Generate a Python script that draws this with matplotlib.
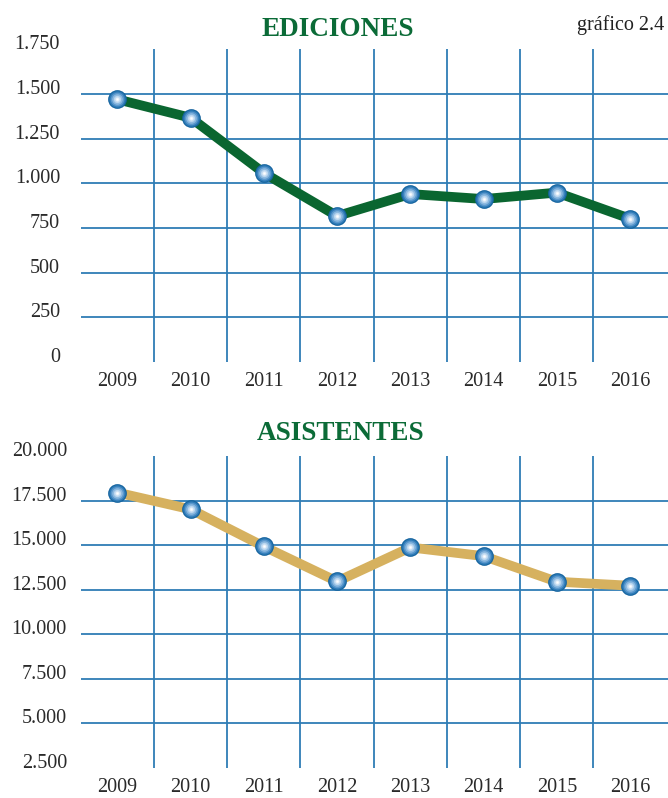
import matplotlib
matplotlib.use("Agg")
import matplotlib.pyplot as plt
from matplotlib.transforms import ScaledTranslation

years = ["2009", "2010", "2011", "2012", "2013", "2014", "2015", "2016"]
ediciones = [1470, 1367, 1058, 817, 940, 912, 948, 802]
asistentes = [17950, 17010, 14925, 12965, 14870, 14385, 12950, 12725]

ed_ticks = [0, 250, 500, 750, 1000, 1250, 1500, 1750]
ed_labels = ["0", "250", "500", "750", "1.000", "1.250", "1.500", "1.750"]
as_ticks = [2500, 5000, 7500, 10000, 12500, 15000, 17500, 20000]
as_labels = ["2.500", "5.000", "7.500", "10.000", "12.500", "15.000", "17.500", "20.000"]

plt.rcParams['font.family'] = ['Liberation Serif', 'DejaVu Serif']

W, H = 668, 798
fig = plt.figure(figsize=(W / 100, H / 100), dpi=100)

GRID = "#2f7db5"
TEXT = "#2a2a2a"
TITLE = "#0b6b37"

def make_axes(top_px, bottom_px):
    left, right = 80.7, 666.7
    return fig.add_axes([left / W, 1 - bottom_px / H, (right - left) / W, (bottom_px - top_px) / H])

def draw(ax, values, ticks, labels, color, title, title_x, title_y, ypad):
    n = len(years)
    x = list(range(n))
    ax.set_xlim(-0.5, n - 0.5)
    ax.set_ylim(ticks[0], ticks[-1])
    for s in ax.spines.values():
        s.set_visible(False)
    ax.hlines(ticks[1:-1], -0.5, n - 0.5 + 0.05, colors=GRID, linewidth=1.3, zorder=1, clip_on=False)
    ax.vlines([i + 0.5 for i in range(n - 1)], ticks[0], ticks[-1], colors=GRID, linewidth=1.3, zorder=1)
    ax.plot(x, values, color=color, linewidth=7, solid_capstyle='round', zorder=2)
    layers = [(13.5, "#16649f"), (11.8, "#2f7cb8"), (9.8, "#5b98cd"), (7.6, "#8cb9e0"),
              (5.2, "#bcd7ef"), (3.0, "#e6f0f9"), (1.4, "#ffffff")]
    for ms, c in layers:
        ax.plot(x, values, linestyle='none', marker='o', markersize=ms, markerfacecolor=c,
                markeredgewidth=0, zorder=3)
    ax.set_yticks(ticks)
    ax.set_yticklabels(labels)
    ax.set_xticks(x)
    ax.set_xticklabels(years)
    ax.tick_params(axis='both', length=0, labelsize=14.5, colors=TEXT)
    ax.tick_params(axis='y', pad=ypad)
    ax.tick_params(axis='x', pad=7)
    for lab in ax.get_yticklabels():
        lab.set_transform(lab.get_transform() + ScaledTranslation(0, 7 / 100, fig.dpi_scale_trans))
    fig.text(title_x / W, 1 - title_y / H, title, ha='center', va='center', fontsize=19.5,
             fontweight='bold', color=TITLE)

ax1 = make_axes(49.3, 362)
draw(ax1, ediciones, ed_ticks, ed_labels, "#0a6630", "EDICIONES", 337.5, 30, 14.9)
ax2 = make_axes(456, 768)
draw(ax2, asistentes, as_ticks, as_labels, "#d6b15f", "ASISTENTES", 341, 434, 9.9)

fig.text(664 / W, 1 - 25 / H, "gráfico 2.4", ha='right', va='center', fontsize=14.5, color="#222222")

fig.savefig("out.png", dpi=100)
